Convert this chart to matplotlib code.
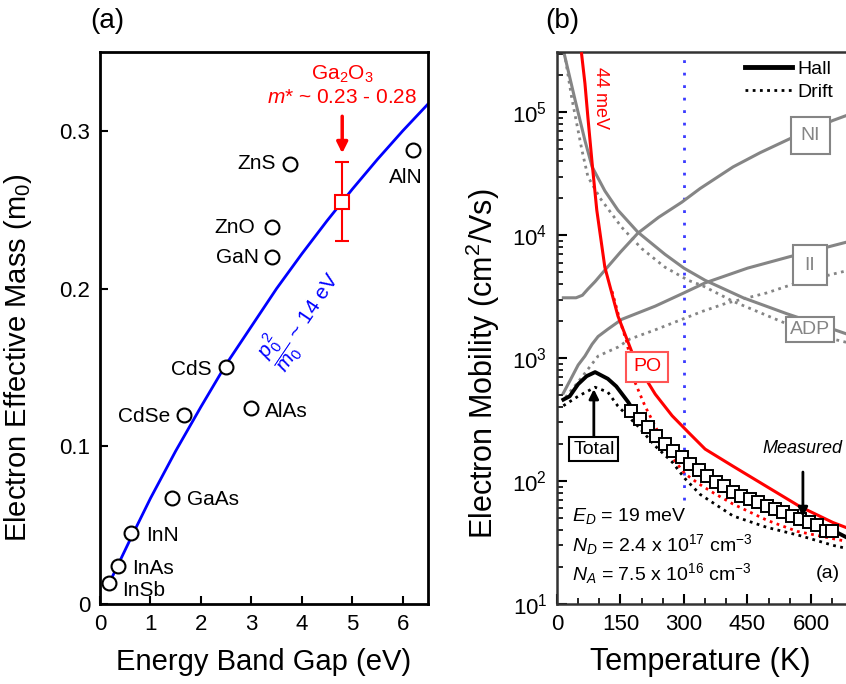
import matplotlib
matplotlib.use('Agg')
import matplotlib.pyplot as plt
from matplotlib.lines import Line2D
from matplotlib.ticker import MultipleLocator

plt.rcParams['font.family'] = ['Liberation Sans', 'DejaVu Sans']
plt.rcParams['mathtext.fontset'] = 'custom'
plt.rcParams['mathtext.rm'] = 'Liberation Sans'
plt.rcParams['mathtext.it'] = 'Liberation Sans:italic'
plt.rcParams['mathtext.bf'] = 'Liberation Sans:bold'

# ---- panel (a): effective mass vs band gap ----
materials = ['InSb', 'InAs', 'InN', 'GaAs', 'CdSe', 'CdS', 'AlAs', 'GaN', 'ZnO', 'ZnS', 'AlN']
band_gap = [0.17, 0.36, 0.62, 1.43, 1.66, 2.49, 3.0, 3.4, 3.4, 3.76, 6.2]
eff_mass = [0.013, 0.024, 0.045, 0.067, 0.12, 0.15, 0.124, 0.22, 0.239, 0.279, 0.288]

# Kane-model curve (p0^2/m0 ~ 14 eV)
kane_eg = [0.15, 0.3, 0.6, 1.0, 1.5, 2.0, 2.5, 3.0, 3.5, 4.0, 4.5, 5.0, 5.5, 6.0, 6.5]
kane_m = [0.011, 0.021, 0.041, 0.067, 0.097, 0.125, 0.152, 0.176, 0.200, 0.222,
          0.243, 0.263, 0.282, 0.300, 0.317]

ga2o3_eg = 4.8
ga2o3_m = 0.255
ga2o3_lo = 0.23
ga2o3_hi = 0.28

# ---- panel (b): mobility vs temperature ----
hall_T = [15, 30, 50, 70, 90, 120, 140, 168, 184, 200, 250, 300, 350, 400, 450, 500, 550, 600, 650, 690]
hall_mu = [460, 490, 615, 714, 770, 680, 590, 440, 360, 305, 200, 150, 115, 92, 74, 62, 53, 46, 40, 34]

drift_T = [15, 50, 90, 120, 144, 191, 232, 272, 302, 338, 416, 496, 574, 652, 690]
drift_mu = [410, 490, 580, 530, 407, 280, 193, 143, 105, 78, 52, 42, 36, 30, 28]

po_T = [58, 66, 73, 83, 94, 113, 144, 177, 200, 232, 272, 310, 350, 416, 496, 574, 652, 690]
po_mu = [3.0e5, 1.72e5, 9.1e4, 3.85e4, 1.6e4, 5.5e3, 2.2e3, 1.12e3, 770, 510, 340, 250,
         182, 132, 90, 62, 46, 41]

po_drift_T = [130, 150, 165, 184, 208, 232, 255, 279, 302, 335, 370, 416, 496, 567, 652, 690]
po_drift_mu = [3.5e3, 1.95e3, 1.35e3, 640, 407, 280, 195, 145, 115, 95, 80, 65, 48, 39, 34, 32]

adp_T = [17, 43, 66, 83, 113, 144, 191, 255, 300, 350, 440, 543, 652, 690]
adp_mu = [3.0e5, 1.25e5, 5.9e4, 3.6e4, 2.3e4, 1.6e4, 1.06e4, 7.0e3, 5.4e3, 4.3e3, 3.1e3,
          2.3e3, 1.72e3, 1.55e3]

adp_drift_T = [20, 35, 59, 73, 102, 153, 200, 255, 310, 343, 416, 534, 652, 690]
adp_drift_mu = [2.7e5, 1.3e5, 4.9e4, 3.0e4, 2.0e4, 1.16e4, 7.8e3, 5.5e3, 4.3e3, 3.9e3,
                2.9e3, 1.96e3, 1.43e3, 1.33e3]

ni_T = [15, 45, 60, 73, 90, 113, 150, 191, 240, 295, 338, 416, 480, 550, 652, 690]
ni_mu = [3.1e3, 3.1e3, 3.25e3, 3.65e3, 4.2e3, 5.2e3, 7.3e3, 1.04e4, 1.4e4, 1.86e4, 2.4e4,
         3.6e4, 4.7e4, 6.1e4, 8.6e4, 9.6e4]

ii_T = [15, 30, 50, 66, 83, 97, 120, 153, 232, 300, 350, 450, 550, 638, 690]
ii_mu = [520, 650, 880, 1040, 1300, 1500, 1720, 2070, 2650, 3400, 4100, 5400, 6700, 8000, 8900]

ii_drift_T = [20, 50, 83, 97, 144, 172, 232, 300, 343, 400, 496, 567, 690]
ii_drift_mu = [480, 640, 900, 1040, 1230, 1430, 1700, 2100, 2400, 2800, 3400, 4100, 5200]

meas_T = [175, 195, 215, 235, 255, 275, 295, 315, 335, 355, 375, 395, 415, 435, 455,
          475, 495, 515, 535, 555, 575, 595, 615, 635, 650]
meas_mu = [371, 319, 275, 232, 200, 175, 157, 137, 123, 110, 98, 91, 81, 76, 71,
           68, 63, 59, 56, 52, 49, 46.5, 44, 39, 39]

ref_T = 300
ref_mu = [70, 3.1e5]

GRAY = '#858585'
DOT = (0, (1, 1.6))

fig = plt.figure(figsize=(8.46, 6.84), dpi=100)
ax_a = fig.add_axes([0.1182, 0.1170, 0.3877, 0.8070])
ax_b = fig.add_axes([0.6584, 0.1170, 0.3452, 0.8070])

# ---------------- panel (a) ----------------
ax_a.plot(kane_eg, kane_m, color='blue', lw=2, zorder=2)
ax_a.plot(band_gap, eff_mass, 'o', ms=10, mfc='white', mec='black', mew=1.5, zorder=3)

# label offsets (points) and alignment
label_pos = {
    'InSb': (10, -5, 'left'), 'InAs': (10, -1.5, 'left'), 'InN': (11, -1.5, 'left'),
    'GaAs': (11, -1, 'left'), 'CdSe': (-10, -1.5, 'right'), 'CdS': (-10, -1.5, 'right'),
    'AlAs': (10, -2, 'left'), 'GaN': (-9, 0, 'right'), 'ZnO': (-12, 0, 'right'),
    'ZnS': (-10, 0, 'right'), 'AlN': (-5, -20, 'center'),
}
for name, x, y in zip(materials, band_gap, eff_mass):
    dx, dy, ha = label_pos[name]
    ax_a.annotate(name, (x, y), xytext=(dx, dy), textcoords='offset points',
                  ha=ha, va='center', fontsize=15)

ax_a.errorbar([ga2o3_eg], [ga2o3_m],
              yerr=[[ga2o3_m - ga2o3_lo], [ga2o3_hi - ga2o3_m]],
              fmt='s', ms=10, mfc='white', mec='red', mew=1.5, ecolor='red',
              elinewidth=1.5, capsize=5, capthick=1.5, zorder=4)
ax_a.annotate('', xy=(ga2o3_eg, 0.284), xytext=(ga2o3_eg, 0.311),
              arrowprops=dict(arrowstyle='-|>', color='red', lw=2.5, mutation_scale=16))
ax_a.text(ga2o3_eg, 0.336, 'Ga$_2$O$_3$', color='red', fontsize=15, ha='center', va='center')
ax_a.text(ga2o3_eg, 0.321, '$m$* ~ 0.23 - 0.28', color='red', fontsize=15,
          ha='center', va='center')
ax_a.text(4.0, 0.181, r'$\dfrac{p_0^{\,2}}{m_0}$ ~ 14 eV', color='blue', fontsize=15,
          rotation=56, ha='center', va='center', rotation_mode='anchor')

ax_a.set_xlim(0, 6.5)
ax_a.set_ylim(0, 0.35)
ax_a.set_xticks([0, 1, 2, 3, 4, 5, 6])
ax_a.set_yticks([0, 0.1, 0.2, 0.3])
ax_a.set_yticklabels(['0', '0.1', '0.2', '0.3'])
ax_a.tick_params(direction='in', length=6, width=1.5, labelsize=16, pad=7)
for sp in ax_a.spines.values():
    sp.set_linewidth(2)
ax_a.set_xlabel('Energy Band Gap (eV)', fontsize=21)
ax_a.set_ylabel('Electron Effective Mass (m$_0$)', fontsize=21)
ax_a.yaxis.set_label_coords(-0.2, 0.447)
ax_a.xaxis.set_label_coords(0.5, -0.08)
fig.text(0.127, 0.970, '(a)', fontsize=20, ha='center', va='center')

# ---------------- panel (b) ----------------
ax_b.set_yscale('log')
ax_b.plot([ref_T, ref_T], ref_mu, color='#3a3aff', lw=2, ls=(0, (1, 3.5)), zorder=1)

ax_b.plot(ni_T, ni_mu, color=GRAY, lw=2.2, zorder=2)
ax_b.plot(ii_T, ii_mu, color=GRAY, lw=2.2, zorder=2)
ax_b.plot(ii_drift_T, ii_drift_mu, color=GRAY, lw=2, ls=DOT, zorder=2)
ax_b.plot(adp_T, adp_mu, color=GRAY, lw=2.2, zorder=2)
ax_b.plot(adp_drift_T, adp_drift_mu, color=GRAY, lw=2, ls=DOT, zorder=2)
ax_b.plot(po_T, po_mu, color='red', lw=2.2, zorder=3)
ax_b.plot(po_drift_T, po_drift_mu, color='red', lw=2, ls=DOT, zorder=3)
ax_b.plot(hall_T, hall_mu, color='black', lw=2.8, zorder=4)
ax_b.plot(drift_T, drift_mu, color='black', lw=2, ls=DOT, zorder=4)
ax_b.plot(meas_T, meas_mu, 's', ms=8, mfc='white', mec='black', mew=1.4, zorder=5)

box_kw = dict(boxstyle='square', fc='white', lw=1.5)
ax_b.text(598, 6.5e4, 'NI', color=GRAY, fontsize=14, ha='center', va='center', zorder=6,
          bbox=dict(box_kw, ec=GRAY, pad=0.5))
ax_b.text(598, 5.7e3, 'II', color=GRAY, fontsize=14, ha='center', va='center', zorder=6,
          bbox=dict(box_kw, ec=GRAY, pad=0.6))
ax_b.text(598, 1.72e3, 'ADP', color=GRAY, fontsize=14, ha='center', va='center', zorder=6,
          bbox=dict(box_kw, ec=GRAY, pad=0.2))
ax_b.text(213, 850, 'PO', color='red', fontsize=14, ha='center', va='center', zorder=6,
          bbox=dict(box_kw, ec='#ff5555', pad=0.35))
ax_b.annotate('Total', xy=(87, 560), xytext=(87, 182), fontsize=14, ha='center',
              va='center', zorder=6, bbox=dict(box_kw, ec='black', pad=0.2),
              arrowprops=dict(arrowstyle='-|>', color='black', lw=2, mutation_scale=14,
                              shrinkA=0, shrinkB=0))
ax_b.annotate('Measured', xy=(581, 51), xytext=(581, 185), fontsize=13, style='italic',
              ha='center', va='center', zorder=6,
              arrowprops=dict(arrowstyle='-|>', color='black', lw=2, mutation_scale=14,
                              shrinkA=9, shrinkB=0))
ax_b.text(102, 1.32e5, '44 meV', color='red', fontsize=13, rotation=-90,
          ha='center', va='center')

ax_b.text(35, 52, '$E_D$ = 19 meV', fontsize=14, va='center')
ax_b.text(35, 30.5, '$N_D$ = 2.4 x 10$^{17}$ cm$^{-3}$', fontsize=14, va='center')
ax_b.text(35, 17.6, '$N_A$ = 7.5 x 10$^{16}$ cm$^{-3}$', fontsize=14, va='center')
ax_b.text(640, 17.6, '(a)', fontsize=14, ha='center', va='center')

ax_b.legend(handles=[Line2D([], [], color='black', lw=3.5),
                     Line2D([], [], color='black', lw=2, ls=DOT)],
            labels=['Hall', 'Drift'], loc='upper left', bbox_to_anchor=(0.881, 0.912),
            bbox_transform=fig.transFigure, frameon=False, fontsize=14,
            handlelength=2.4, handletextpad=0.3, labelspacing=0.3,
            borderpad=0, borderaxespad=0)

ax_b.set_xlim(0, 690)
ax_b.set_ylim(10, 3.1e5)
ax_b.xaxis.set_major_locator(MultipleLocator(150))
ax_b.xaxis.set_minor_locator(MultipleLocator(50))
ax_b.tick_params(which='major', direction='in', length=7, width=1.5, labelsize=16, pad=7)
ax_b.tick_params(which='minor', direction='in', length=4, width=1.2)
for sp in ax_b.spines.values():
    sp.set_linewidth(1.8)
    sp.set_color('#333333')
ax_b.spines['right'].set_visible(False)
ax_b.set_xlabel('Temperature (K)', fontsize=22)
ax_b.set_ylabel('Electron Mobility (cm$^2$/Vs)', fontsize=22)
ax_b.yaxis.set_label_coords(-0.19, 0.435)
ax_b.xaxis.set_label_coords(0.49, -0.078)
fig.text(0.665, 0.970, '(b)', fontsize=20, ha='center', va='center')

fig.savefig('out.png', dpi=100)
